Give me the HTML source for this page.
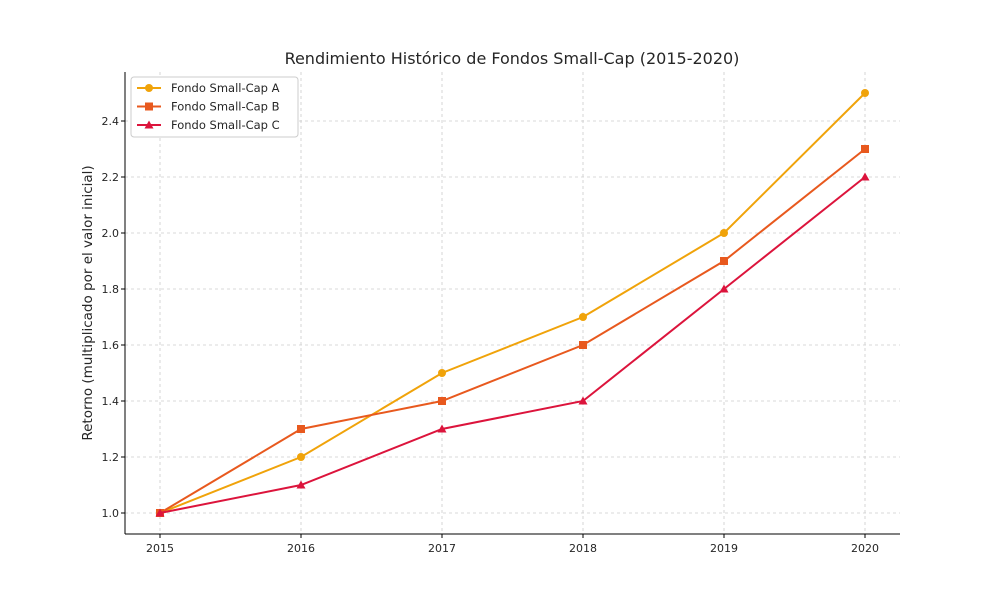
<!DOCTYPE html>
<html><head><meta charset="utf-8"><style>
body{margin:0;background:#fff;font-family:"Liberation Sans","DejaVu Sans",sans-serif}
svg text{font-family:"DejaVu Sans","Liberation Sans",sans-serif;fill:#262626}
</style></head><body>
<svg id="chart" width="1000" height="600" viewBox="0 0 1000 600">
<rect width="1000" height="600" fill="#fff"/>
<text x="512" y="64" text-anchor="middle" font-size="16">Rendimiento Histórico de Fondos Small-Cap (2015-2020)</text>
<text transform="translate(92,303) rotate(-90)" text-anchor="middle" font-size="13.5">Retorno (multiplicado por el valor inicial)</text>
<g id="grid"></g><g id="axes"></g><g id="series"></g><g id="legend"></g>
</svg>
<script>
const years=[2015,2016,2017,2018,2019,2020];
const yTicks=[1.0,1.2,1.4,1.6,1.8,2.0,2.2,2.4];
const fundA=[1.0,1.2,1.5,1.7,2.0,2.5];
const fundB=[1.0,1.3,1.4,1.6,1.9,2.3];
const fundC=[1.0,1.1,1.3,1.4,1.8,2.2];
const names=["Fondo Small-Cap A","Fondo Small-Cap B","Fondo Small-Cap C"];
const NS="http://www.w3.org/2000/svg";
const L=125,R=900,T=72,B=534;
const xs=y=>160+(y-2015)*141;
const ys=v=>513-(v-1.0)*280;
function mk(tag,attrs,parent){const e=document.createElementNS(NS,tag);for(const k in attrs)e.setAttribute(k,attrs[k]);parent.appendChild(e);return e;}
const grid=document.getElementById('grid'),axes=document.getElementById('axes'),ser=document.getElementById('series'),leg=document.getElementById('legend');
years.forEach(y=>{
 const g=mk('line',{x1:xs(y),x2:xs(y),y1:T,y2:B,stroke:'#ccc','stroke-dasharray':'3,3','stroke-width':0.8},grid);
 
 
 const t=mk('text',{x:xs(y),y:B+18,'text-anchor':'middle','font-size':11},axes);t.textContent=y;
 
 
 mk('line',{x1:xs(y),x2:xs(y),y1:B,y2:B+4,stroke:'#000'},axes);
});
yTicks.forEach(v=>{
 const g=mk('line',{x1:L,x2:R,y1:ys(v),y2:ys(v),stroke:'#ccc','stroke-dasharray':'3,3','stroke-width':0.8},grid);
 
 
 const t=mk('text',{x:L-6,y:ys(v)+4,'text-anchor':'end','font-size':11},axes);t.textContent=v.toFixed(1);
 
 
 mk('line',{x1:L-4,x2:L,y1:ys(v),y2:ys(v),stroke:'#000'},axes);
});
const al=mk('line',{x1:L,x2:L,y1:T,y2:B,stroke:'#000'},axes);


const ab=mk('line',{x1:L,x2:R,y1:B,y2:B,stroke:'#000'},axes);


const colors=['#f0a30a','#e8591e','#dc143c'];
const shapes=['circle','square','triangle'];
function marker(shape,x,y,c,p){
 if(shape==='circle')return mk('circle',{cx:x,cy:y,r:4,fill:c},p);
 if(shape==='square')return mk('rect',{x:x-4,y:y-4,width:8,height:8,fill:c},p);
 return mk('polygon',{points:`${x},${y-4.5} ${x-4.5},${y+3.5} ${x+4.5},${y+3.5}`,fill:c},p);
}
[fundA,fundB,fundC].forEach((d,i)=>{
 const pl=mk('polyline',{points:d.map((v,j)=>xs(years[j])+','+ys(v)).join(' '),fill:'none',stroke:colors[i],'stroke-width':2},ser);
 
 
 d.forEach((v,j)=>{const m=marker(shapes[i],xs(years[j]),ys(v),colors[i],ser);
  
  });
});
const box=mk('rect',{x:131,y:77,width:167,height:60,rx:3,fill:'#fff',stroke:'#ccc'},leg);


names.forEach((n,i)=>{
 const y=88+i*18.5;
 mk('line',{x1:137,x2:161,y1:y,y2:y,stroke:colors[i],'stroke-width':2},leg);
 marker(shapes[i],149,y,colors[i],leg);
 const t=mk('text',{x:171,y:y+4,'font-size':11.5},leg);t.textContent=n;
 
 
});
</script>
</body></html>
